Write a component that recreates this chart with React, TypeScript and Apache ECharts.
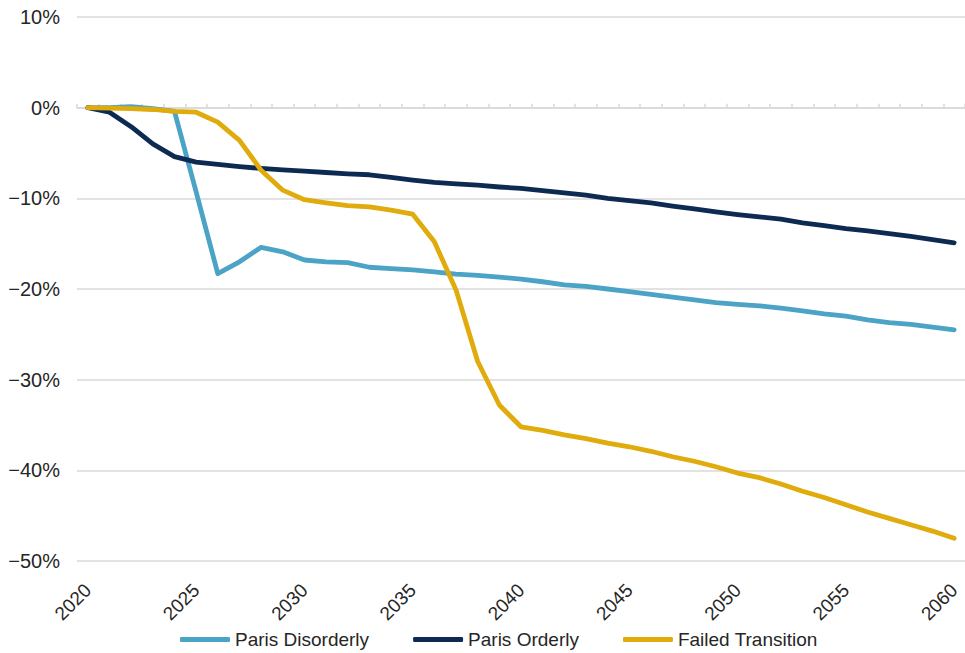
import React, { useEffect, useRef } from "react";
import * as echarts from "echarts";

const years: string[] = [];
for (let y = 2020; y <= 2060; y++) years.push(String(y));

const parisDisorderly = [
  0, 0, 0.1, -0.1, -0.4, -9.3, -18.3, -17.0, -15.4, -15.9,
  -16.8, -17.0, -17.1, -17.6, -17.75, -17.9, -18.1, -18.35, -18.5, -18.7,
  -18.9, -19.2, -19.55, -19.7, -20.0, -20.3, -20.6, -20.9, -21.2, -21.5,
  -21.7, -21.85, -22.1, -22.4, -22.75, -23.0, -23.4, -23.7, -23.9, -24.2,
  -24.5,
];
const parisOrderly = [
  0, -0.5, -2.1, -4.0, -5.4, -6.0, -6.25, -6.5, -6.7, -6.85,
  -7.0, -7.15, -7.3, -7.4, -7.7, -8.0, -8.25, -8.4, -8.55, -8.75,
  -8.9, -9.15, -9.4, -9.65, -10.0, -10.25, -10.5, -10.85, -11.15, -11.5,
  -11.8, -12.05, -12.3, -12.7, -13.0, -13.35, -13.6, -13.9, -14.2, -14.55,
  -14.9,
];
const failedTransition = [
  0, -0.05, -0.1, -0.2, -0.4, -0.5, -1.6, -3.6, -6.9, -9.1,
  -10.15, -10.5, -10.8, -10.95, -11.3, -11.75, -14.8, -20.1, -28.0, -32.8,
  -35.2, -35.6, -36.1, -36.5, -37.0, -37.4, -37.9, -38.5, -39.0, -39.6,
  -40.3, -40.8, -41.5, -42.3, -43.0, -43.8, -44.6, -45.3, -46.0, -46.7,
  -47.5,
];

const seriesNames = ["Paris Disorderly", "Paris Orderly", "Failed Transition"];
const seriesColors = ["#4BA3C6", "#0D2B52", "#E0AB0C"];

const FONT = "'Liberation Sans', Arial, sans-serif";

export default function App() {
  const ref = useRef<HTMLDivElement>(null);

  useEffect(() => {
    if (!ref.current) return;
    const chart = echarts.init(ref.current, undefined, { renderer: "svg" });
    const data = [parisDisorderly, parisOrderly, failedTransition];
    chart.setOption({
      animation: false,
      grid: { left: 77, top: 17, width: 889, height: 544, containLabel: false },
      legend: {
        left: 175,
        top: 625,
        itemWidth: 50,
        itemHeight: 5,
        itemGap: 44,
        icon: "roundRect",
        textStyle: { fontSize: 19, color: "#262626", fontFamily: FONT },
        data: seriesNames,
      },
      xAxis: [
        {
          type: "category",
          data: years,
          boundaryGap: true,
          position: "bottom",
          axisLine: { show: false, onZero: false },
          axisTick: { show: false },
          splitLine: { show: false },
          axisLabel: {
            interval: 4,
            rotate: 45,
            margin: 26,
            fontSize: 19,
            color: "#262626",
            fontFamily: FONT,
          },
        },
        {
          type: "category",
          data: years,
          boundaryGap: true,
          position: "top",
          axisLine: { show: true, onZero: true, lineStyle: { color: "#d9d9d9", width: 1.5 } },
          axisTick: { show: true, length: 4, interval: 0, lineStyle: { color: "#d9d9d9", width: 1.5 } },
          axisLabel: { show: false },
          splitLine: { show: false },
        },
      ],
      yAxis: {
        type: "value",
        min: -50,
        max: 10,
        interval: 10,
        axisLine: { show: false },
        axisTick: { show: false },
        splitLine: { lineStyle: { color: "#d9d9d9", width: 1.5 } },
        axisLabel: {
          margin: 17,
          fontSize: 20,
          color: "#262626",
          fontFamily: FONT,
          formatter: (v: number) => (v < 0 ? "\u2212" + Math.abs(v) : String(v)) + "%",
        },
      },
      series: seriesNames.map((name, i) => ({
        name,
        type: "line",
        xAxisIndex: 0,
        data: data[i],
        symbol: "none",
        smooth: false,
        lineStyle: { color: seriesColors[i], width: 4.8, cap: "round", join: "round" },
        itemStyle: { color: seriesColors[i] },
        z: i === 2 ? 3 : 2,
      })),
    });
    return () => chart.dispose();
  }, []);

  return (
    <div
      ref={ref}
      style={{ position: "fixed", left: 0, top: 0, width: 965, height: 653, background: "#fff" }}
    />
  );
}
